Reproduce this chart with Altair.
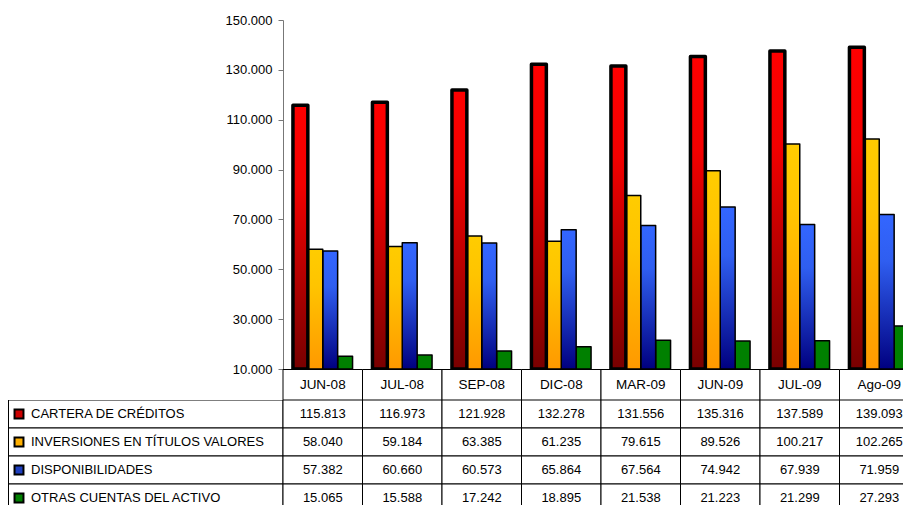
import altair as alt
import pandas as pd

categories = ["JUN-08", "JUL-08", "SEP-08", "DIC-08", "MAR-09", "JUN-09", "JUL-09", "Ago-09"]
series = ["CARTERA DE CRÉDITOS", "INVERSIONES EN TÍTULOS VALORES", "DISPONIBILIDADES", "OTRAS CUENTAS DEL ACTIVO"]
cartera = [115813, 116973, 121928, 132278, 131556, 135316, 137589, 139093]
inversiones = [58040, 59184, 63385, 61235, 79615, 89526, 100217, 102265]
disponibilidades = [57382, 60660, 60573, 65864, 67564, 74942, 67939, 71959]
otras = [15065, 15588, 17242, 18895, 21538, 21223, 21299, 27293]
y_ticks = [10000, 30000, 50000, 70000, 90000, 110000, 130000, 150000]

values = [cartera, inversiones, disponibilidades, otras]
rows = []
for s, vals in zip(series, values):
    for c, v in zip(categories, vals):
        rows.append({"category": c, "series": s, "value": v,
                     "label": f"{v:,}".replace(",", ".")})
df = pd.DataFrame(rows)
df_series = pd.DataFrame({"series": series})
df_cat = pd.DataFrame({"category": categories})

FONT = "Liberation Sans"
W = 895            # visible width (view clipped at the window edge)
X0 = 275           # start of the category columns inside the view
BAND = 79.5
X_RANGE = [X0, X0 + BAND * len(categories)]
PLOT_H = 349
HDR = 31
ROW = 28

def grad(stops):
    return {"gradient": "linear", "x1": 0, "y1": 0, "x2": 0, "y2": 1,
            "stops": [{"offset": o, "color": c} for o, c in stops]}

fills = [
    grad([(0, "#ff0000"), (0.3, "#f20000"), (1, "#780000")]),
    grad([(0, "#ffcc00"), (0.3, "#ffc400"), (1, "#ff9900")]),
    grad([(0, "#3366ff"), (0.3, "#2f5ef0"), (1, "#000080")]),
    "#008000",
]
stroke_w = [3.5, 1.5, 1.5, 1.5]
square_colors = ["#cc0000", "#ffb000", "#1f3fbf", "#008000"]

x_cat = alt.X("category:N", sort=categories,
              scale=alt.Scale(domain=categories, range=X_RANGE, paddingInner=0, paddingOuter=0),
              axis=None)
x_off = alt.XOffset("series:N", sort=series,
                    scale=alt.Scale(domain=series, paddingInner=0, paddingOuter=0.667))
y_top = alt.Y(
    "value:Q",
    scale=alt.Scale(domain=[10000, 150000], range=[PLOT_H, 0], nice=False, zero=False),
    axis=alt.Axis(title=None, values=y_ticks, grid=False, labelFont=FONT,
                  labelFontSize=13, labelColor="#000", domainColor="#777",
                  tickColor="#777", tickSize=5, labelPadding=6, offset=-X0,
                  labelExpr="replace(format(datum.value, ',.0f'), ',', '.')"),
)

layers = []
for i in [3, 2, 1, 0]:
    sub = df[df["series"] == series[i]]
    layers.append(
        alt.Chart(sub).mark_bar(fill=fills[i], stroke="black", strokeWidth=stroke_w[i],
                                strokeJoin="round", clip=True)
        .encode(x=x_cat, xOffset=x_off, y=y_top, y2=alt.datum(10000))
    )

# header row of the data table (category names)
hdr_cells = alt.Chart(df_cat).mark_rect(fill="white", stroke="black", strokeWidth=1, clip=True).encode(
    x=x_cat, y=alt.value(PLOT_H + 0.5), y2=alt.value(PLOT_H + HDR))
hdr_text = alt.Chart(df_cat).mark_text(font=FONT, fontSize=13.5, color="#000", clip=True).encode(
    x=x_cat, y=alt.value(PLOT_H + 16), text="category:N")
layers += [hdr_cells, hdr_text]

top = alt.layer(*layers).properties(width=W, height=PLOT_H + HDR)

y_tab = alt.Y("series:N", sort=series,
              scale=alt.Scale(domain=series, paddingInner=0, paddingOuter=0),
              axis=None)

cells = alt.Chart(df).mark_rect(fill="white", stroke="black", strokeWidth=1, clip=True).encode(
    x=x_cat, y=y_tab)
cell_text = alt.Chart(df).mark_text(font=FONT, fontSize=13, color="#000", clip=True).encode(
    x=x_cat, y=y_tab, text="label:N")
left_cells = alt.Chart(df_series).mark_rect(fill="white", stroke="black", strokeWidth=1, clip=True).encode(
    x=alt.value(0.5), x2=alt.value(X0), y=y_tab)
left_text = alt.Chart(df_series).mark_text(font=FONT, fontSize=13, color="#000", align="left",
                                           clip=True).encode(
    x=alt.value(23), y=y_tab, text="series:N")
squares = alt.Chart(df_series).mark_point(shape="square", filled=True, size=80, stroke="black",
                                          strokeWidth=2, opacity=1, clip=True).encode(
    x=alt.value(11), y=y_tab,
    fill=alt.Fill("series:N", scale=alt.Scale(domain=series, range=square_colors), legend=None))

table = alt.layer(left_cells, cells, cell_text, left_text, squares).properties(
    width=W, height=ROW * len(series))

chart = alt.vconcat(top, table, spacing=0).properties(
    padding={"left": 0, "top": 6, "right": 0, "bottom": 0}
).configure(font=FONT).configure_view(stroke=None)

chart.save("out.html", embed_options={"renderer": "svg", "actions": False})
